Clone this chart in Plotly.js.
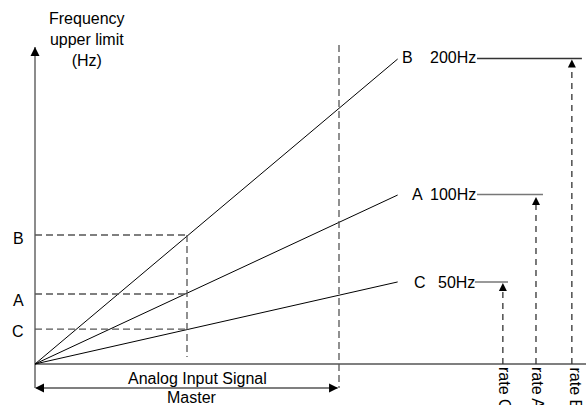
<!DOCTYPE html>
<html>
<head>
<meta charset="utf-8">
<script src="https://cdn.plot.ly/plotly-3.0.1.min.js"></script>
<style>html,body{margin:0;padding:0;background:#fff;}#chart{width:586px;height:405px;}</style>
</head>
<body>
<div id="chart"></div>
<script>
// ---- data (signal in % of master range, frequency units) ----
const seriesNames = ['B', 'A', 'C'];
const freqLabels = ['200Hz', '100Hz', '50Hz'];
const rateLabels = ['rate B', 'rate A', 'rate C'];
const lineEndX = [119.3, 119.3, 119.3];
const lineEndY = [200, 110.8, 53.8];
const refX = 50;
const refY = [84.6, 45.9, 22.9];
const masterX = 100;
const masterTopY = 209.2;
const axisTopY = 207.9;
const axisEndX = 181.3;
const arrowRowY = -15.7;
const refBottomY = 4.6;
const leaderStartX = [145.4, 145.4, 144.7];
const leaderEndX = [179.9, 167.1, 155.6];
const leaderY = [200.3, 111.2, 53.8];
const rateX = [176.6, 164.8, 153.9];
const rateTopY = [199.6, 109.5, 53.1];

// ---- scales ----
const X_RANGE = [-11.513, 181.25];
const Y_RANGE = [-26.89, 238.69];
const W = 586, H = 405;
const X = px => X_RANGE[0] + px / W * (X_RANGE[1] - X_RANGE[0]);
const Y = py => Y_RANGE[1] - py / H * (Y_RANGE[1] - Y_RANGE[0]);

const traces = [];
function seg(x0, y0, x1, y1, color, width, dash) {
  traces.push({x: [x0, x1], y: [y0, y1], mode: 'lines', hoverinfo: 'skip',
    line: {color: color, width: width, dash: dash || 'solid'}});
}
function head(x, y, sym, size) {
  traces.push({x: [x], y: [y], mode: 'markers', hoverinfo: 'skip',
    marker: {symbol: sym, size: size || 9, color: '#000', line: {width: 0}}});
}

// axes
seg(0, arrowRowY, 0, axisTopY, '#666', 1.5);
seg(0, 0, axisEndX, 0, '#000', 1.2);
head(0, axisTopY, 'arrow-up', 9);

// diagonal lines
for (let i = 0; i < seriesNames.length; i++) {
  seg(0, 0, lineEndX[i], lineEndY[i], '#000', 1);
}
// reference dashed lines
for (let i = 0; i < seriesNames.length; i++) {
  seg(0, refY[i], refX, refY[i], '#555', 1.3, '7px,4px');
}
seg(refX, refY[0], refX, refBottomY, '#555', 1.3, '7px,4px');
seg(masterX, masterTopY, masterX, arrowRowY, '#555', 1.3, '7px,4px');

// double arrow
seg(0.5, arrowRowY, masterX - 0.5, arrowRowY, '#555', 1.5);
head(0, arrowRowY, 'arrow-left', 9);
head(masterX - 0.3, arrowRowY, 'arrow-right', 9);

// leader lines and rate arrows
const leaderColors = ['#333', '#777', '#777'];
for (let i = 0; i < seriesNames.length; i++) {
  seg(leaderStartX[i], leaderY[i], leaderEndX[i], leaderY[i], leaderColors[i], 1.5);
  seg(rateX[i], 0, rateX[i], rateTopY[i] - 4, '#333', 1.3, '6px,5px');
  head(rateX[i], rateTopY[i], 'arrow-up', 8);
}

const font = {family: 'Liberation Sans, Arial, sans-serif', size: 16, color: '#000'};
const ann = [];
function txt(text, px, py, xa, ya, angle) {
  ann.push({text: text, x: X(px), y: Y(py), xref: 'x', yref: 'y', showarrow: false,
    xanchor: xa || 'center', yanchor: ya || 'middle', textangle: angle || 0, font: font,
    borderpad: 0});
}
txt('Frequency<br>upper limit<br>(Hz)', 87, 39);
txt('Analog Input Signal', 197, 378);
txt('Master', 192, 397);
const leftLabelPy = [238, 300, 331];
for (let i = 0; i < seriesNames.length; i++) {
  txt(seriesNames[i], 18, leftLabelPy[i]);
}
const letterPx = [407.5, 417, 420];
const labelPy = [57, 194, 282];
const freqRightPx = [477, 477, 476];
for (let i = 0; i < seriesNames.length; i++) {
  txt(seriesNames[i], letterPx[i], labelPy[i]);
  txt(freqLabels[i], freqRightPx[i], labelPy[i], 'right');
}
const ratePx = [575, 538, 505];
for (let i = 0; i < seriesNames.length; i++) {
  txt(rateLabels[i], ratePx[i], 366, 'center', 'top', 90);
}

const layout = {
  width: W, height: H,
  margin: {l: 0, r: 0, t: 0, b: 0, pad: 0},
  paper_bgcolor: '#fff', plot_bgcolor: '#fff',
  showlegend: false,
  xaxis: {range: X_RANGE, visible: false, fixedrange: true},
  yaxis: {range: Y_RANGE, visible: false, fixedrange: true},
  annotations: ann
};
Plotly.newPlot('chart', traces, layout, {displayModeBar: false, staticPlot: true});
</script>
</body>
</html>
